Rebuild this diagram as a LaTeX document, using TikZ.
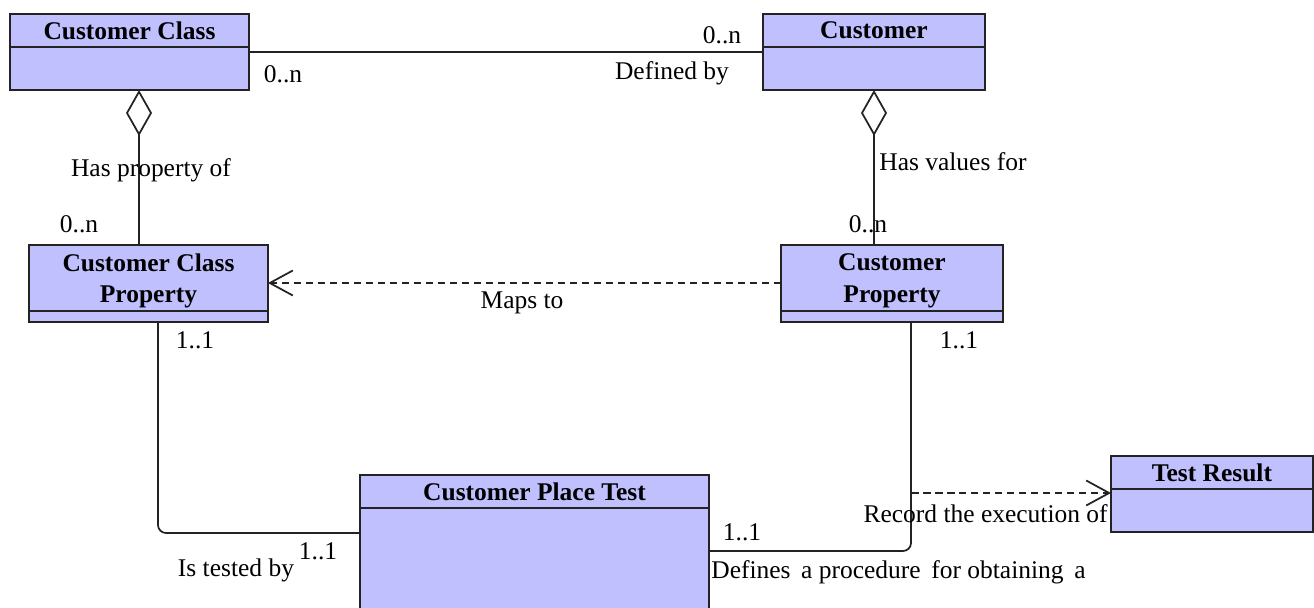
\documentclass[tikz,border=0pt]{standalone}
\usepackage{fontspec}
\setmainfont{Liberation Serif}
\usetikzlibrary{arrows.meta,positioning}
\definecolor{classfill}{RGB}{192,192,255}
\definecolor{classline}{RGB}{35,35,35}
\tikzset{ClassHead/.style={draw = classline, fill = classfill, line width = 0.04cm,
                           inner sep = 0mm, outer sep = 0mm, align = center, text depth = -0.07cm,
                           font = \fontsize{14.5}{18}\selectfont\bfseries}}

\begin{document}
\begin{tikzpicture}[x = 0.02cm, y = -0.02cm,
                    class_body/.style = {draw = classline, fill = classfill, line width = 0.04cm,
                                         inner sep = 0mm, outer sep = 0mm},
                    link/.style = {color = classline, line width = 0.035cm},
                    dep_line/.style = {link, dash pattern = on 0.15cm off 0.09cm,
                                       -{Straight Barb[length = 0.46cm, width = 0.5cm]}},
                    agg_line/.style = {link, {Diamond[open, length = 0.92cm, width = 0.52cm]}-},
                    tag/.style = {font = \fontsize{14.5}{16}\selectfont, inner sep = 0mm, yshift = -0.04cm}]
    \useasboundingbox (0,0) rectangle (1314,608);
    \clip (0,0) rectangle (1314,608);
    % classes
    \node[ClassHead, minimum width = 4.78cm, minimum height = 0.66cm] (cc) at (129.5,30.5) {Customer Class};
    \node[class_body, minimum width = 4.78cm, minimum height = 0.86cm, below = 0cm of cc] (cc-b) {};
    \node[ClassHead, minimum width = 4.44cm, minimum height = 0.66cm] (cu) at (874,30.5) {Customer};
    \node[class_body, minimum width = 4.44cm, minimum height = 0.86cm, below = 0cm of cu] (cu-b) {};
    \node[ClassHead, minimum width = 4.78cm, minimum height = 1.32cm] (ccp) at (148.5,278) {Customer Class\\Property};
    \node[class_body, minimum width = 4.78cm, minimum height = 0.22cm, below = 0cm of ccp] (ccp-b) {};
    \node[ClassHead, minimum width = 4.44cm, minimum height = 1.32cm] (cp) at (892,278) {Customer\\Property};
    \node[class_body, minimum width = 4.44cm, minimum height = 0.22cm, below = 0cm of cp] (cp-b) {};
    \node[ClassHead, minimum width = 6.98cm, minimum height = 0.66cm] (cpt) at (534.5,491.5) {Customer Place Test};
    \node[class_body, minimum width = 6.98cm, minimum height = 2.4cm, below = 0cm of cpt] (cpt-b) {};
    \node[ClassHead, minimum width = 4.04cm, minimum height = 0.66cm] (tr) at (1212,472.5) {Test Result};
    \node[class_body, minimum width = 4.04cm, minimum height = 0.86cm, below = 0cm of tr] (tr-b) {};
    % connectors
    \draw[link] ([yshift = -0.1cm]cc-b.north east) -- ([yshift = -0.1cm]cu-b.north west);
    \draw[agg_line] ([xshift = 0.19cm]cc-b.south) -- ([xshift = 0.19cm]cc-b.south |- ccp.north);
    \draw[agg_line] (cu-b.south) -- (cu-b.south |- cp.north);
    \draw[dep_line] ([yshift = -0.1cm]cp.west) -- ([yshift = -0.1cm]cp.west -| ccp.east);
    \draw[link, rounded corners = 0.16cm] ([xshift = 0.19cm]ccp-b.south) |- ([yshift = -0.5cm]cpt-b.north west);
    \coordinate (drop) at ([xshift = 0.38cm]cp-b.south);
    \draw[link, rounded corners = 0.16cm] (drop) |- ([yshift = -0.86cm]cpt-b.north east);
    \coordinate (trin) at ([yshift = -0.08cm]tr-b.north west);
    \draw[dep_line] (drop |- trin) -- (trin);
    % labels
    \node[tag] (m1) at (283,72) {0..n};
    \node[tag] (m2) at (722,33) {0..n};
    \node[tag] (l1) at (672,71) {Defined by};
    \node[tag] (l2) at (151,168) {Has property of};
    \node[tag] (m3) at (79,222) {0..n};
    \node[tag, anchor = west] (l3) at (879,160) {Has values for};
    \node[tag] (m4) at (868,222) {0..n};
    \node[tag] (l4) at (522,301) {Maps to};
    \node[tag] (m5) at (195,338) {1..1};
    \node[tag] (m6) at (959,338) {1..1};
    \node[tag] (l5) at (236,568) {Is tested by};
    \node[tag] (m7) at (318,549) {1..1};
    \node[tag] (m8) at (742,530) {1..1};
    \node[tag, anchor = west] (l6) at (711,570) {Defines\ \,a procedure\ \,for obtaining\ \,a};
    \node[tag, anchor = east] (l7) at (1108,512) {Record the execution of};
\end{tikzpicture}
\end{document}
